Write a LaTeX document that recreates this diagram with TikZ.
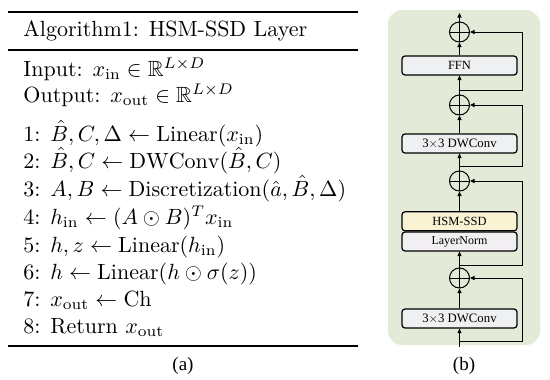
\documentclass[tikz,border=0pt]{standalone}
\usepackage{amsmath,amssymb}
\usepackage{fontspec}
\newfontfamily\timesfont{Liberation Serif}
\usepackage{tikz}
\usetikzlibrary{arrows.meta,positioning}

\begin{document}
\begin{tikzpicture}[
    x=1pt, y=-1pt,
    algline/.style={anchor=base west, inner sep=0pt, scale=2.2,
      font=\fontsize{10}{12}\selectfont},
    layerbox/.style={draw, line width=1.2pt, rounded corners=3pt, fill=boxgray,
      minimum width=115pt, minimum height=19pt, inner sep=0pt,
      font=\timesfont\fontsize{12.8}{14}\selectfont},
    addnode/.style={draw, circle, line width=1pt, minimum size=20pt, inner sep=0pt,
      path picture={\draw[line width=1pt]
        (path picture bounding box.north) -- (path picture bounding box.south)
        (path picture bounding box.west) -- (path picture bounding box.east);}},
    flow/.style={line width=1pt, -{Triangle[length=4.5pt, width=4pt]}},
    bypass/.style={line width=1pt, -{Triangle[length=4.5pt, width=4pt]}},
    caption/.style={font=\timesfont\fontsize{19}{22}\selectfont},
  ]
    \definecolor{bggreen}{HTML}{E3EBD8}
    \definecolor{boxgray}{HTML}{EEF0F2}
    \definecolor{ssdyellow}{HTML}{FAF3D3}
    \definecolor{normpink}{HTML}{F2EFF3}

    \useasboundingbox (0,0) rectangle (550,380);

    % ---- panel (a): algorithm ----
    \draw[line width=1.1pt] (8,12) -- (358,12);
    \draw[line width=1.1pt] (8,50) -- (358,50);
    \draw[line width=1.1pt] (8,346) -- (358,346);
    \node[algline] (title) at (23,37) {Algorithm1: HSM-SSD Layer};
    \node[algline] (input) at (23,76) {Input: $x_{\mathrm{in}} \in \mathbb{R}^{L\times D}$};
    \node[algline] (output) at (23,102) {Output: $x_{\mathrm{out}} \in \mathbb{R}^{L\times D}$};
    \node[algline] (s1) at (23,141) {1: $\hat{B}, C, \Delta \leftarrow \mathrm{Linear}(x_{\mathrm{in}})$};
    \node[algline] (s2) at (23,168) {2: $\hat{B}, C \leftarrow \mathrm{DWConv}(\hat{B}, C)$};
    \node[algline] (s3) at (23,196) {3: $A, B \leftarrow \mathrm{Discretization}(\hat{a}, \hat{B}, \Delta)$};
    \node[algline] (s4) at (23,224) {4: $h_{\mathrm{in}} \leftarrow (A \odot B)^{T} x_{\mathrm{in}}$};
    \node[algline] (s5) at (23,252) {5: $h, z \leftarrow \mathrm{Linear}(h_{\mathrm{in}})$};
    \node[algline] (s6) at (23,279) {6: $h \leftarrow \mathrm{Linear}(h \odot \sigma(z))$};
    \node[algline] (s7) at (23,306) {7: $x_{\mathrm{out}} \leftarrow \mathrm{Ch}$};
    \node[algline] (s8) at (23,333) {8: Return $x_{\mathrm{out}}$};
    \node[caption] (capa) at (183,366) {(a)};

    % ---- panel (b): block ----
    \fill[bggreen, rounded corners=14pt] (388,10) rectangle (540,345);
    \node[layerbox] (conv1) at (459.5,318.5) {3$\times$3 DWConv};
    \node[addnode] (add4) at (459.5,278) {};
    \node[layerbox, fill=normpink, font=\timesfont\fontsize{12}{14}\selectfont]
      (norm) at (459.5,241.5) {LayerNorm};
    \node[layerbox, fill=ssdyellow, font=\timesfont\fontsize{12.5}{14}\selectfont,
      above=0pt of norm] (ssd) {HSM-SSD};
    \node[addnode] (add3) at (459.5,181) {};
    \node[layerbox] (conv2) at (459.5,143.5) {3$\times$3 DWConv};
    \node[addnode] (add2) at (459.5,105) {};
    \node[layerbox, font=\timesfont\fontsize{12.5}{14}\selectfont] (ffn) at (459.5,65.5) {FFN};
    \node[addnode] (add1) at (459.5,32) {};
    \node[caption] (capb) at (464,366) {(b)};

    \coordinate (in) at (459.5,347);
    \coordinate (out) at (459.5,13);
    \coordinate (b4) at (459.5,341);
    \coordinate (r4) at (522,341);
    \coordinate (b3) at (459.5,265);
    \coordinate (r3) at (522,265);
    \coordinate (b2) at (459.5,166);
    \coordinate (r2) at (522,166);
    \coordinate (b1) at (459.5,90);
    \coordinate (r1) at (522,90);

    % main path
    \draw[flow] (in) -- (conv1);
    \draw[flow] (conv1) -- (add4);
    \draw[flow] (add4) -- (norm);
    \draw[flow] (ssd) -- (add3);
    \draw[flow] (add3) -- (conv2);
    \draw[flow] (conv2) -- (add2);
    \draw[flow] (add2) -- (ffn);
    \draw[flow] (ffn) -- (add1);
    \draw[flow] (add1) -- (out);

    % residual branches
    \draw[bypass] (b4) -- (r4) |- (add4);
    \draw[bypass] (b3) -- (r3) |- (add3);
    \draw[bypass] (b2) -- (r2) |- (add2);
    \draw[bypass] (b1) -- (r1) |- (add1);
  \end{tikzpicture}
\end{document}
